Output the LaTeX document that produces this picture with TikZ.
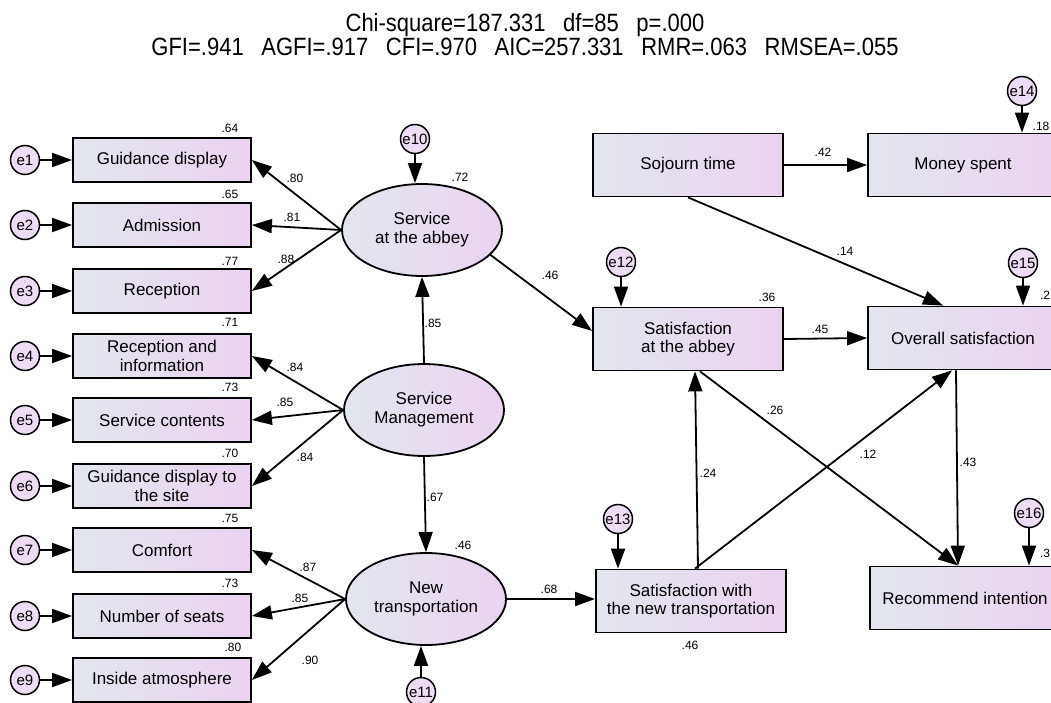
\documentclass[tikz,border=0pt]{standalone}
\usepackage{fontspec}
\setmainfont{Liberation Sans}
\usepackage{graphicx}
\usepackage{tikz}
\usetikzlibrary{arrows.meta,positioning,shapes.geometric}

\definecolor{boxleft}{HTML}{E2E6EE}
\definecolor{boxright}{HTML}{EBD3F1}
\definecolor{errfill}{HTML}{EDDCF3}

\tikzset{
  obs/.style={draw, line width=1.8pt, left color=boxleft, right color=boxright,
    minimum width=178pt, minimum height=44pt, inner sep=1pt, align=center,
    font=\fontsize{17}{18.5}\selectfont},
  obsr/.style={obs, minimum width=190pt, minimum height=63pt},
  lat/.style={ellipse, draw, line width=1.8pt, left color=boxleft, right color=boxright,
    minimum width=160pt, minimum height=92pt, inner sep=0pt, align=center,
    font=\fontsize{17}{19}\selectfont},
  err/.style={circle, draw, line width=1.5pt, fill=errfill, minimum size=29pt,
    inner sep=0pt, font=\fontsize{15}{15}\selectfont},
  arr/.style={-{Triangle[length=20pt,width=14pt]}, line width=1.8pt},
  coef/.style={font=\fontsize{12}{12}\selectfont, inner sep=0pt},
  fittext/.style={font=\fontsize{25}{26}\selectfont, inner sep=0pt}
}

\begin{document}
\begin{tikzpicture}[x=1pt,y=-1pt]
  \useasboundingbox (0,0) rectangle (1051,703);
  \clip (0,0) rectangle (1051,703);

  % fit indices
  \node[fittext] (fit1) at (525,25) {\scalebox{0.88}[1]{Chi-square=187.331\hspace{20pt}df=85\hspace{20pt}p=.000}};
  \node[fittext] (fit2) at (525,47) {\scalebox{0.88}[1]{GFI=.941\hspace{20pt}AGFI=.917\hspace{20pt}CFI=.970\hspace{20pt}AIC=257.331\hspace{20pt}RMR=.063\hspace{20pt}RMSEA=.055}};

  % observed variables (left)
  \node[obs] (gd)  at (162,160) {Guidance display};
  \node[obs] (adm) at (162,225) {Admission};
  \node[obs] (rec) at (162,291) {Reception};
  \node[obs] (ri)  at (162,356) {Reception and\\information};
  \node[obs] (sc)  at (162,420) {Service contents};
  \node[obs] (gds) at (162,486) {Guidance display to\\the site};
  \node[obs] (cmf) at (162,550) {Comfort};
  \node[obs] (nos) at (162,616) {Number of seats};
  \node[obs] (ia)  at (162,680) {Inside atmosphere};

  % errors of the indicators
  \node[err] (e1) at (25,160) {e1};
  \node[err] (e2) at (25,225) {e2};
  \node[err] (e3) at (25,291) {e3};
  \node[err] (e4) at (25,356) {e4};
  \node[err] (e5) at (25,420) {e5};
  \node[err] (e6) at (25,486) {e6};
  \node[err] (e7) at (25,550) {e7};
  \node[err] (e8) at (25,616) {e8};
  \node[err] (e9) at (25,680) {e9};
  \draw[arr] (e1) -- (gd);
  \draw[arr] (e2) -- (adm);
  \draw[arr] (e3) -- (rec);
  \draw[arr] (e4) -- (ri);
  \draw[arr] (e5) -- (sc);
  \draw[arr] (e6) -- (gds);
  \draw[arr] (e7) -- (cmf);
  \draw[arr] (e8) -- (nos);
  \draw[arr] (e9) -- (ia);

  % latent variables
  \node[lat] (sab) at (422,230) {Service\\at the abbey};
  \node[lat] (sm)  at (424,410) {Service\\Management};
  \node[lat] (nt)  at (426,599) {New\\transportation};
  \node[err] (e10) at (415,139) {e10};
  \node[err] (e11) at (421,692) {e11};
  \draw[arr] (e10.south) -- (e10.south |- sab.north);
  \draw[arr] (e11.north) -- (e11.north |- nt.south);

  \draw[arr] (sab.west) -- (gd.east);
  \draw[arr] (sab.west) -- (adm.east);
  \draw[arr] (sab.west) -- (rec.east);
  \draw[arr] (sm.west) -- (ri.east);
  \draw[arr] (sm.west) -- (sc.east);
  \draw[arr] (sm.west) -- (gds.east);
  \draw[arr] (nt.west) -- (cmf.east);
  \draw[arr] (nt.west) -- (nos.east);
  \draw[arr] (nt.west) -- (ia.east);
  \draw[arr] (sm.north) -- (sab.south);
  \draw[arr] (sm.south) -- (nt.north);

  % observed variables (right)
  \node[obsr] (soj)     at (688,165) {Sojourn time};
  \node[obsr] (money)   at (963,165) {Money spent};
  \node[obsr] (satab)   at (688,339) {Satisfaction\\at the abbey};
  \node[obsr] (overall) at (963,338) {Overall satisfaction};
  \node[obsr] (satnt)   at (691,601) {Satisfaction with\\the new transportation};
  \node[obsr] (recom)   at (965,598) {Recommend intention};
  \node[err] (e12) at (621,262) {e12};
  \node[err] (e13) at (618,519) {e13};
  \node[err] (e14) at (1022,91) {e14};
  \node[err] (e15) at (1023,263) {e15};
  \node[err] (e16) at (1029,513) {e16};
  \draw[arr] (e12.south) -- (e12.south |- satab.north);
  \draw[arr] (e13.south) -- (e13.south |- satnt.north);
  \draw[arr] (e14.south) -- (e14.south |- money.north);
  \draw[arr] (e15.south) -- (e15.south |- overall.north);
  \draw[arr] (e16.south) -- (e16.south |- recom.north);

  \draw[arr] (sab.-20) -- ([yshift=8pt]satab.west);
  \draw[arr] (nt.east) -- (nt.east -| satnt.west);
  \draw[arr] (soj.east) -- (money.west);
  \draw[arr] (soj.south) -- ([xshift=-20pt]overall.north);
  \draw[arr] (satab.east) -- (overall.west);
  \draw[arr] ([xshift=12pt]satab.south) -- ([xshift=-7pt]recom.north);
  \draw[arr] ([xshift=-7pt]overall.south) -- ([xshift=-7pt]recom.north);
  \draw[arr] ([xshift=7pt]satnt.north) -- ([xshift=7pt]satab.south);
  \draw[arr] ([xshift=4pt]satnt.north) -- ([xshift=-11pt]overall.south);

  % squared multiple correlations
  \node[coef] at (230,128) {.64};
  \node[coef] at (230,194) {.65};
  \node[coef] at (230,261) {.77};
  \node[coef] at (230,322) {.71};
  \node[coef] at (230,387) {.73};
  \node[coef] at (230,453) {.70};
  \node[coef] at (230,518) {.75};
  \node[coef] at (230,583) {.73};
  \node[coef] at (233,647) {.80};
  \node[coef] at (460,177) {.72};
  \node[coef] at (463,545) {.46};
  \node[coef] at (767,297) {.36};
  \node[coef] at (690,645) {.46};
  \node[coef] at (1041,126) {.18};
  \node[coef] at (1045,295) {.2};
  \node[coef] at (1045,553) {.3};

  % path coefficients
  \node[coef] at (295,178) {.80};
  \node[coef] at (292,217) {.81};
  \node[coef] at (286,259) {.88};
  \node[coef] at (295,367) {.84};
  \node[coef] at (285,402) {.85};
  \node[coef] at (305,457) {.84};
  \node[coef] at (308,567) {.87};
  \node[coef] at (300,598) {.85};
  \node[coef] at (310,660) {.90};
  \node[coef] at (433,323) {.85};
  \node[coef] at (550,275) {.46};
  \node[coef] at (435,497) {.67};
  \node[coef] at (549,589) {.68};
  \node[coef] at (823,152) {.42};
  \node[coef] at (845,251) {.14};
  \node[coef] at (820,329) {.45};
  \node[coef] at (775,410) {.26};
  \node[coef] at (868,454) {.12};
  \node[coef] at (708,473) {.24};
  \node[coef] at (968,462) {.43};
\end{tikzpicture}
\end{document}
